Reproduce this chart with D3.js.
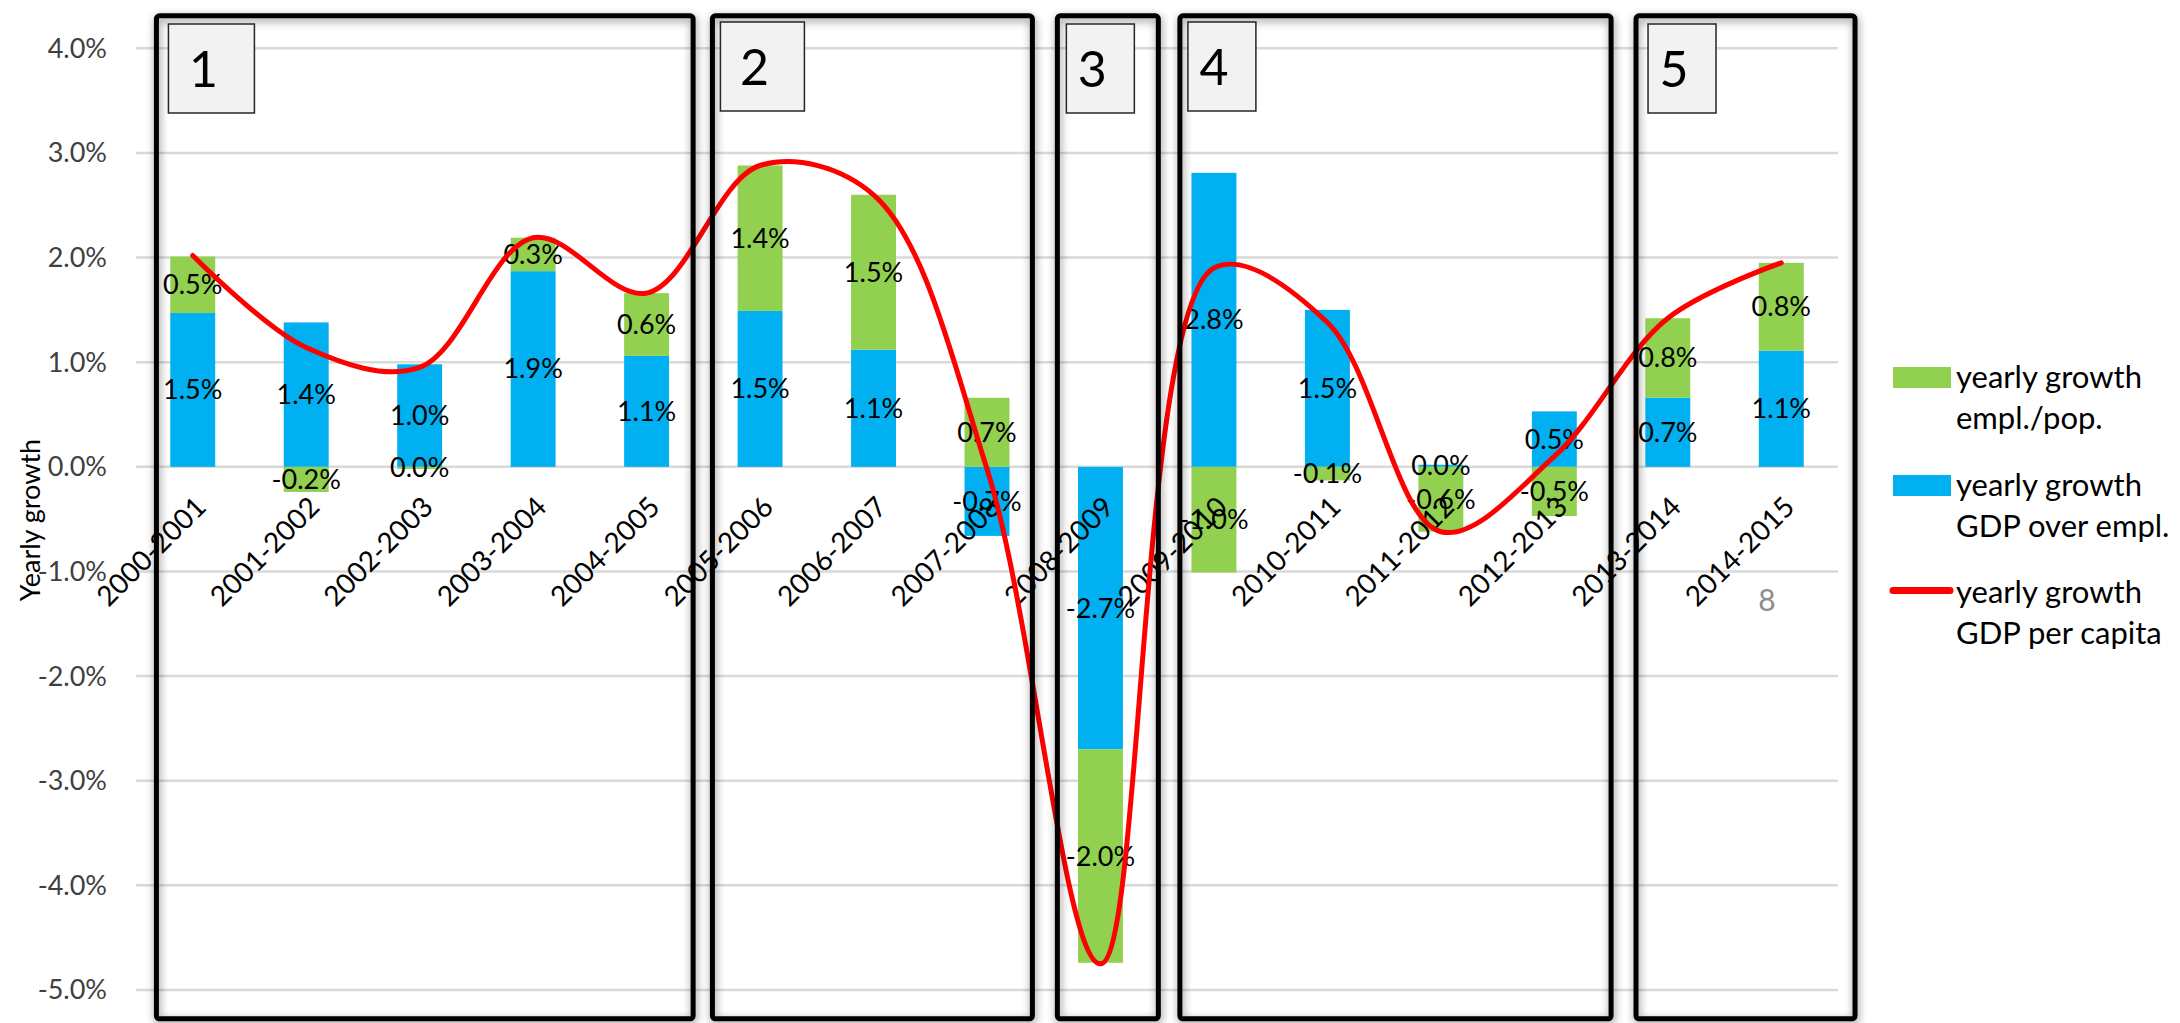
<!DOCTYPE html>
<meta charset="utf-8">
<html lang="en">
<head>
<style>
  body { margin: 0; background: #ffffff; }
  svg { display: block; font-family: Lato, "Open Sans", sans-serif; }
  .grid line { stroke: #d9d9d9; stroke-width: 2.5; }
  .panel { fill: none; stroke: #000; stroke-width: 5; }
  .numbox { fill: #f2f2f2; stroke: #262626; stroke-width: 1.5; }
</style>
</head>
<body>
<div id="chart"></div>
<script src="https://d3js.org/d3.v7.min.js"></script>
<script>
// categories (periods)
var categories = ["2000-2001", "2001-2002", "2002-2003", "2003-2004", "2004-2005",
  "2005-2006", "2006-2007", "2007-2008", "2008-2009", "2009-2010",
  "2010-2011", "2011-2012", "2012-2013", "2013-2014", "2014-2015"];

// yearly growth GDP over employment (%)
var gdpOverEmpl = [1.47, 1.38, 0.98, 1.87, 1.06, 1.49, 1.12, -0.66, -2.70, 2.81,
  1.50, 0.02, 0.53, 0.66, 1.11];

// yearly growth employment / population (%)
var emplOverPop = [0.54, -0.24, -0.02, 0.32, 0.60, 1.39, 1.48, 0.66, -2.04, -1.01,
  -0.13, -0.62, -0.47, 0.76, 0.84];

// yearly growth GDP per capita (%)
var gdpPerCapita = [2.02, 1.14, 0.95, 2.19, 1.66, 2.88, 2.60, -0.02, -4.75, 1.90,
  1.38, -0.62, 0.10, 1.42, 1.95];

var yTicks = [-5, -4, -3, -2, -1, 0, 1, 2, 3, 4];

var legendItems = [
  ["yearly growth", "empl./pop."],
  ["yearly growth", "GDP over empl."],
  ["yearly growth", "GDP per capita"]
];

var panelLabels = ["1", "2", "3", "4", "5"];

// hand drawn boxes, in category units
var panelLayout = [
  {from: 0.18, to: 4.91, boxW: 86, boxDx: 12, boxY: 24},
  {from: 5.08, to: 7.90, boxW: 84, boxDx: 8, boxY: 22},
  {from: 8.12, to: 9.01, boxW: 68, boxDx: 9, boxY: 24},
  {from: 9.20, to: 13.00, boxW: 68, boxDx: 8, boxY: 22},
  {from: 13.22, to: 15.15, boxW: 68, boxDx: 12, boxY: 24}
];

var blue = "#00b0f0", green = "#92d050", red = "#ff0000";

var width = 2180, height = 1023;
var plot = {left: 136, right: 1838, top: 48.3, bottom: 990};

var svg = d3.select("#chart")
  .append("svg")
    .attr("width", width)
    .attr("height", height);

var defs = svg.append("defs");
var f = defs.append("filter").attr("id", "shadow")
  .attr("x", "-10%").attr("y", "-10%").attr("width", "120%").attr("height", "120%");
f.append("feDropShadow")
  .attr("dx", 1).attr("dy", 3).attr("stdDeviation", 4)
  .attr("flood-color", "#000").attr("flood-opacity", 0.45);

var x = d3.scaleBand()
  .domain(categories)
  .range([plot.left, plot.right])
  .paddingInner(0.604)
  .paddingOuter(0.302);

var xu = d3.scaleLinear().domain([0, categories.length]).range([plot.left, plot.right]);

var y = d3.scaleLinear()
  .domain([-5, 4])
  .range([plot.bottom, plot.top]);

var fmt = function(v) {
  var r = Math.round(v * 10) / 10;
  if (r === 0) r = 0;
  return r.toFixed(1) + "%";
};

// gridlines
svg.append("g").attr("class", "grid")
  .selectAll("line")
  .data(yTicks)
  .enter()
  .append("line")
    .attr("x1", plot.left)
    .attr("x2", plot.right)
    .attr("y1", function(d) { return y(d); })
    .attr("y2", function(d) { return y(d); });

// y tick labels
svg.append("g")
  .selectAll("text")
  .data(yTicks)
  .enter()
  .append("text")
    .attr("x", 107)
    .attr("y", function(d) { return y(d); })
    .attr("dy", "0.35em")
    .attr("text-anchor", "end")
    .attr("font-size", 27)
    .attr("fill", "#404040")
    .text(function(d) { return d.toFixed(1) + "%"; });

// y title
svg.append("text")
  .attr("transform", "translate(31,520) rotate(-90)")
  .attr("text-anchor", "middle")
  .attr("dy", "0.35em")
  .attr("font-size", 27)
  .attr("fill", "#000")
  .text("Yearly growth");

// stacked bars
var rows = categories.map(function(c, i) {
  return {cat: c, blue: gdpOverEmpl[i], green: emplOverPop[i]};
});
var stack = d3.stack().keys(["blue", "green"]).offset(d3.stackOffsetDiverging);
var layers = stack(rows);
var colors = {blue: blue, green: green};

svg.append("g")
  .selectAll("g")
  .data(layers)
  .enter()
  .append("g")
    .attr("fill", function(d) { return colors[d.key]; })
  .selectAll("rect")
  .data(function(d) { return d; })
  .enter()
  .append("rect")
    .attr("x", function(d) { return x(d.data.cat); })
    .attr("width", x.bandwidth())
    .attr("y", function(d) { return y(Math.max(d[0], d[1])); })
    .attr("height", function(d) { return Math.abs(y(d[0]) - y(d[1])); });

// category labels
svg.append("g")
  .selectAll("text")
  .data(categories)
  .enter()
  .append("text")
    .attr("transform", function(d) {
      var cx = x(d) + x.bandwidth() / 2 + 15;
      return "translate(" + cx + "," + (y(0) + 42) + ") rotate(-45)";
    })
    .attr("text-anchor", "end")
    .attr("font-size", 28)
    .attr("fill", "#000")
    .text(function(d) { return d; });

// data labels
svg.append("g")
  .selectAll("g")
  .data(layers)
  .enter()
  .append("g")
  .selectAll("text")
  .data(function(L) { return L.map(function(d) { return {d: d, key: L.key}; }); })
  .enter()
  .append("text")
    .attr("x", function(o) { return x(o.d.data.cat) + x.bandwidth() / 2; })
    .attr("y", function(o) { return (y(o.d[0]) + y(o.d[1])) / 2; })
    .attr("dy", "0.35em")
    .attr("text-anchor", "middle")
    .attr("font-size", 27)
    .attr("fill", "#000")
    .text(function(o) { return fmt(o.d.data[o.key]); });

// GDP per capita line
var line = d3.line()
  .x(function(d, i) { return x(categories[i]) + x.bandwidth() / 2; })
  .y(function(d) { return y(d); })
  .curve(d3.curveCatmullRom.alpha(0.5));

svg.append("path")
  .datum(gdpPerCapita)
  .attr("fill", "none")
  .attr("stroke", red)
  .attr("stroke-width", 5)
  .attr("stroke-linecap", "round")
  .attr("d", line);

// phase boxes
var pg = svg.append("g");
panelLayout.forEach(function(p, i) {
  var x0 = xu(p.from), x1 = xu(p.to);
  pg.append("rect")
    .attr("class", "panel")
    .attr("filter", "url(#shadow)")
    .attr("x", x0).attr("y", 15.8)
    .attr("width", x1 - x0).attr("height", 1003)
    .attr("rx", 3);
  pg.append("rect")
    .attr("class", "numbox")
    .attr("x", x0 + p.boxDx).attr("y", p.boxY)
    .attr("width", p.boxW).attr("height", 89);
  pg.append("text")
    .attr("x", x0 + p.boxDx + p.boxW / 2 - 8)
    .attr("y", p.boxY + 63)
    .attr("text-anchor", "middle")
    .attr("font-size", 50)
    .attr("fill", "#000")
    .text(panelLabels[i]);
});

// legend
var lg = svg.append("g").attr("font-size", 31).attr("fill", "#000");
var legendY = [388, 496, 603];
var swatchColors = [green, blue, red];
legendItems.forEach(function(item, i) {
  var base = legendY[i];
  if (i < 2) {
    lg.append("rect")
      .attr("x", 1893).attr("y", base - 21)
      .attr("width", 58).attr("height", 21)
      .attr("fill", swatchColors[i]);
  } else {
    lg.append("line")
      .attr("x1", 1893).attr("x2", 1950)
      .attr("y1", base - 12.5).attr("y2", base - 12.5)
      .attr("stroke", red).attr("stroke-width", 7)
      .attr("stroke-linecap", "round");
  }
  lg.append("text").attr("x", 1956).attr("y", base).text(item[0]);
  lg.append("text").attr("x", 1956).attr("y", base + 41).text(item[1]);
});

// page number
svg.append("text")
  .attr("x", 1767).attr("y", 610.7)
  .attr("text-anchor", "middle")
  .attr("font-size", 30)
  .attr("fill", "#8c8c8c")
  .text("8");
</script>
</body>
</html>
